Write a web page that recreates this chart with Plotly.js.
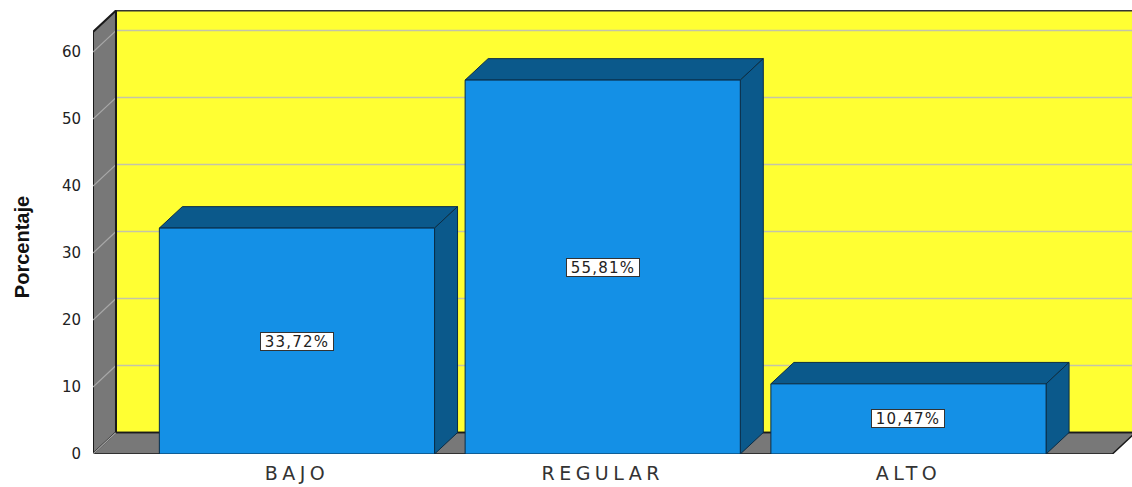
<!DOCTYPE html>
<html>
<head>
<meta charset="utf-8">
<script src="https://cdn.plot.ly/plotly-3.0.1.min.js"></script>
<style>
  html, body { margin: 0; padding: 0; background: #ffffff; }
  #chart { width: 1132px; height: 487px; }
  .xtick text { letter-spacing: 4.5px; }
  .annotation .annotation-text { letter-spacing: 1.2px; }
  .annotation[data-index="3"] .annotation-text { letter-spacing: 0px; }
</style>
</head>
<body>
<div id="chart"></div>
<script>
// ---- data ----
var categories = ["BAJO", "REGULAR", "ALTO"];
var percentages = [33.72, 55.81, 10.47];
var labels = ["33,72%", "55,81%", "10,47%"];
var yTicks = [0, 10, 20, 30, 40, 50, 60];
var yTitle = "Porcentaje";

// ---- geometry (in data units) ----
var W = 0.9;          // bar width
var DX = 0.0752;      // depth offset x
var DY = 3.2;         // depth offset y
var X0 = -0.667;      // left wall front position
var XEND = 2.667;     // floor front right end
var XMAX = 2.731;     // axis max
var H = 63;           // wall height
var YMAX = 66.27;

var xpos = categories.map(function (c, i) { return i; });

var shapes = [];
// back wall
shapes.push({type: 'rect', layer: 'below', xref: 'x', yref: 'y',
  x0: X0 + DX, x1: XMAX + 0.2, y0: DY, y1: H + DY,
  fillcolor: '#ffff33', line: {width: 0}});
// left wall
shapes.push({type: 'path', layer: 'below', xref: 'x', yref: 'y',
  path: 'M' + X0 + ',0 L' + X0 + ',' + H + ' L' + (X0 + DX) + ',' + (H + DY) +
        ' L' + (X0 + DX) + ',' + DY + ' Z',
  fillcolor: '#787878', line: {color: '#1a1a1a', width: 2}});
// floor
shapes.push({type: 'path', layer: 'below', xref: 'x', yref: 'y',
  path: 'M' + X0 + ',0 L' + (X0 + DX) + ',' + DY + ' L' + (XEND + DX) + ',' + DY +
        ' L' + XEND + ',0 Z',
  fillcolor: '#787878', line: {color: '#1a1a1a', width: 1.5}});
// gridlines
yTicks.forEach(function (t) {
  if (t > 0) {
    shapes.push({type: 'line', layer: 'below', xref: 'x', yref: 'y',
      x0: X0 + DX, x1: XMAX + 0.2, y0: t + DY, y1: t + DY,
      line: {color: '#c4c4a8', width: 1.5}});
  }
  shapes.push({type: 'line', layer: 'below', xref: 'x', yref: 'y',
    x0: X0, x1: X0 + DX, y0: t, y1: t + DY,
    line: {color: '#a8a8a8', width: 1.2}});
});
// back wall top edge
shapes.push({type: 'line', layer: 'below', xref: 'x', yref: 'y',
  x0: X0 + DX, x1: XMAX + 0.2, y0: H + DY, y1: H + DY,
  line: {color: '#333333', width: 2}});
// floor/back wall seam and left wall/back wall seam
shapes.push({type: 'line', layer: 'below', xref: 'x', yref: 'y',
  x0: X0 + DX, x1: XMAX + 0.2, y0: DY, y1: DY,
  line: {color: '#1a1a1a', width: 1.5}});
shapes.push({type: 'line', layer: 'below', xref: 'x', yref: 'y',
  x0: X0 + DX, x1: X0 + DX, y0: DY, y1: H + DY,
  line: {color: '#1a1a1a', width: 2}});

// bar top and side faces
xpos.forEach(function (xc, i) {
  var v = percentages[i];
  var L = xc - W / 2, R = xc + W / 2;
  shapes.push({type: 'path', layer: 'below', xref: 'x', yref: 'y',
    path: 'M' + L + ',' + v + ' L' + (L + DX) + ',' + (v + DY) + ' L' + (R + DX) + ',' + (v + DY) +
          ' L' + R + ',' + v + ' Z',
    fillcolor: '#0b598b', line: {color: '#0a2c46', width: 1}});
  shapes.push({type: 'path', layer: 'below', xref: 'x', yref: 'y',
    path: 'M' + R + ',0 L' + R + ',' + v + ' L' + (R + DX) + ',' + (v + DY) +
          ' L' + (R + DX) + ',' + DY + ' Z',
    fillcolor: '#0b598b', line: {color: '#0a2c46', width: 1}});
});

// value labels
var annotations = xpos.map(function (xc, i) {
  return {x: xc, y: percentages[i] / 2, xref: 'x', yref: 'y', text: labels[i],
    showarrow: false, font: {family: 'DejaVu Sans, Verdana, sans-serif', size: 15, color: '#222222'},
    bgcolor: '#ffffff', bordercolor: '#333333', borderwidth: 1, borderpad: 0,
    width: 72, height: 17};
});
// y axis title
annotations.push({x: -0.0683, y: 0.466, xref: 'paper', yref: 'paper', text: '<b>' + yTitle + '</b>',
  textangle: -90, showarrow: false, xanchor: 'center', yanchor: 'middle',
  font: {family: 'Liberation Sans, Arial, sans-serif', size: 20, color: '#111111'}});

var trace = {
  type: 'bar', x: xpos, y: percentages, width: W,
  marker: {color: '#1490e6', line: {color: '#0a2c46', width: 1}},
  hoverinfo: 'skip', showlegend: false
};

var layout = {
  width: 1132, height: 487,
  margin: {l: 93, r: 0, t: 10, b: 33, pad: 0},
  paper_bgcolor: '#ffffff', plot_bgcolor: 'rgba(0,0,0,0)',
  showlegend: false,
  xaxis: {
    type: 'linear', range: [X0, XMAX], tickvals: xpos, ticktext: categories,
    showgrid: false, zeroline: false, showline: false,
    ticks: 'outside', ticklen: 2, tickcolor: 'rgba(0,0,0,0)',
    tickfont: {family: 'DejaVu Sans, Verdana, sans-serif', size: 19, color: '#333333'},
    fixedrange: true
  },
  yaxis: {
    range: [0, YMAX], tickvals: yTicks, ticktext: yTicks.map(String),
    showgrid: false, zeroline: false, showline: false,
    ticks: 'outside', ticklen: 8, tickcolor: 'rgba(0,0,0,0)',
    tickfont: {family: 'DejaVu Sans, Verdana, sans-serif', size: 15, color: '#222222'},
    fixedrange: true
  },
  shapes: shapes,
  annotations: annotations
};

Plotly.newPlot('chart', [trace], layout, {displayModeBar: false, staticPlot: true});
</script>
</body>
</html>
